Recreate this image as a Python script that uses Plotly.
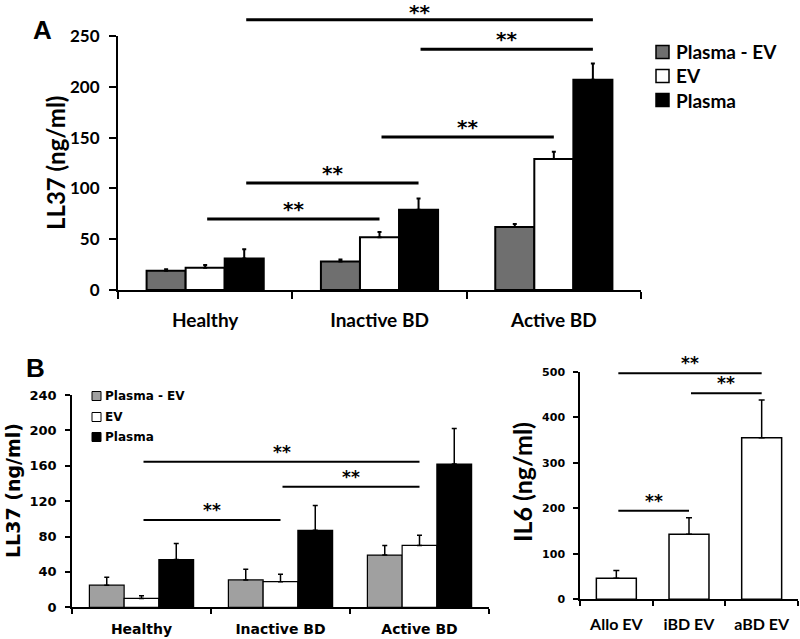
import plotly.graph_objects as go

# ---------------- data ----------------
groups_A = ["Healthy", "Inactive BD", "Active BD"]
series_names = ["Plasma - EV", "EV", "Plasma"]
A_plasma_ev = [19, 28, 62]
A_ev = [22, 52, 129]
A_plasma = [31, 79, 207]
A_plasma_ev_err = [1.5, 2, 3]
A_ev_err = [2.5, 5, 7]
A_plasma_err = [9, 11, 16]
A_yticks = [0, 50, 100, 150, 200, 250]

groups_B = ["Healthy", "Inactive BD", "Active BD"]
B_plasma_ev = [25, 31, 59]
B_ev = [10, 29, 70]
B_plasma = [54, 87, 162]
B_plasma_ev_err = [9, 12, 11]
B_ev_err = [3, 8.5, 11.5]
B_plasma_err = [18, 28, 40]
B_yticks = [0, 40, 80, 120, 160, 200, 240]

il6_groups = ["Allo EV", "iBD EV", "aBD EV"]
il6_values = [46, 143, 355]
il6_err = [17, 36, 83]
il6_yticks = [0, 100, 200, 300, 400, 500]

# significance brackets: (group1, series1, group2, series2, level)
A_sig = [(0, 2, 2, 2, 266), (1, 2, 2, 2, 237), (1, 1, 2, 1, 150.6),
         (0, 2, 1, 2, 105.3), (0, 1, 1, 1, 69.9)]
B_sig = [(0, 1, 2, 1, 164.5), (1, 1, 2, 1, 136.3), (0, 1, 1, 1, 98.6)]
IL6_sig = [(0, 2, 496.7), (1, 2, 452.7), (0, 1, 194.7)]
sig_label = "**"

# ---------------- geometry / style ----------------
W, H = 800, 639
def px(x): return x / W
def py(y): return 1 - y / H

PA = dict(l=118, r=641, b=290, t=36, ymax=250)
PB = dict(l=72, r=489, b=607.3, t=395, ymax=240)
PC = dict(l=580, r=798, b=599.3, t=371.7, ymax=500)

def cat_x(p, idx):
    return p["l"] + (idx + 0.5) * (p["r"] - p["l"]) / 3.0

def val_y(p, v):
    return p["b"] - v / p["ymax"] * (p["b"] - p["t"])

wA, wB, wC = 0.224, 0.25, 0.55
grayA, grayB = "#6f6f6f", "#a0a0a0"
colorsA = [grayA, "white", "black"]
colorsB = [grayB, "white", "black"]
FA = "Lato"
FB = "DejaVu Sans"
FS = "DejaVu Sans"

fig = go.Figure()

A_vals = [A_plasma_ev, A_ev, A_plasma]
A_errs = [A_plasma_ev_err, A_ev_err, A_plasma_err]
for j in range(3):
    fig.add_trace(go.Bar(
        x=groups_A, y=A_vals[j], name=series_names[j], width=wA,
        offset=(j - 1.5) * wA,
        marker=dict(color=colorsA[j], line=dict(color="black", width=2)),
        error_y=dict(type="data", array=A_errs[j], arrayminus=[0] * 3,
                     symmetric=False, color="black", thickness=2, width=2),
        xaxis="x", yaxis="y", showlegend=False))

B_vals = [B_plasma_ev, B_ev, B_plasma]
B_errs = [B_plasma_ev_err, B_ev_err, B_plasma_err]
for j in range(3):
    fig.add_trace(go.Bar(
        x=groups_B, y=B_vals[j], name=series_names[j], width=wB,
        offset=(j - 1.5) * wB,
        marker=dict(color=colorsB[j], line=dict(color="black", width=1.2)),
        error_y=dict(type="data", array=B_errs[j], arrayminus=[0] * 3,
                     symmetric=False, color="black", thickness=1.5, width=2.5),
        xaxis="x2", yaxis="y2", showlegend=False))

fig.add_trace(go.Bar(
    x=il6_groups, y=il6_values, width=wC, offset=-wC / 2,
    marker=dict(color="white", line=dict(color="black", width=1.5)),
    error_y=dict(type="data", array=il6_err, arrayminus=[0] * 3,
                 symmetric=False, color="black", thickness=1.5, width=3),
    xaxis="x3", yaxis="y3", showlegend=False))

shapes = []
annotations = []

def add_sig(p, g1, c1, g2, c2, level, fsize, lw, rise):
    x0 = cat_x(p, g1 + c1) + 2
    x1 = cat_x(p, g2 + c2)
    y = val_y(p, level)
    shapes.append(dict(type="line", xref="paper", yref="paper",
                       x0=px(x0), x1=px(x1), y0=py(y), y1=py(y),
                       line=dict(color="black", width=lw)))
    annotations.append(dict(text="<b>" + sig_label + "</b>", xref="paper", yref="paper",
                            x=px((x0 + x1) / 2), y=py(max(y - rise, 12)), xanchor="center",
                            yanchor="middle", showarrow=False,
                            font=dict(family=FS, size=fsize, color="black")))

for g1, s1, g2, s2, lv in A_sig:
    add_sig(PA, g1, (s1 - 1) * wA, g2, (s2 - 1) * wA, lv, 20, 3, 10)
for g1, s1, g2, s2, lv in B_sig:
    add_sig(PB, g1, (s1 - 1) * wB, g2, (s2 - 1) * wB, lv, 17, 2, 10)
for g1, g2, lv in IL6_sig:
    add_sig(PC, g1, 0, g2, 0, lv, 17, 2, 10)

def add_legend(x, ys, size, fsize, font, colors, lw, gap):
    for name, c, yc in zip(series_names, colors, ys):
        shapes.append(dict(type="rect", xref="paper", yref="paper",
                           x0=px(x), x1=px(x + size), y0=py(yc - size / 2), y1=py(yc + size / 2),
                           fillcolor=c, line=dict(color="black", width=lw)))
        annotations.append(dict(text="<b>" + name + "</b>", xref="paper", yref="paper",
                                x=px(x + size + gap), y=py(yc), xanchor="left", yanchor="middle",
                                showarrow=False, font=dict(family=font, size=fsize, color="black")))

add_legend(656, [52, 76, 100], 13, 19, FA, colorsA, 1.5, 5)
add_legend(92, [396, 417, 437], 9, 12, FB, colorsB, 1, 2)

annotations += [
    dict(text="<b>LL37 (ng/ml)</b>", xref="paper", yref="paper", x=px(55), y=py(163),
         textangle=-90, showarrow=False, xanchor="center", yanchor="middle",
         font=dict(family=FA, size=24, color="black")),
    dict(text="<b>LL37 (ng/ml)</b>", xref="paper", yref="paper", x=px(13), y=py(491),
         textangle=-90, showarrow=False, xanchor="center", yanchor="middle",
         font=dict(family=FB, size=19, color="black")),
    dict(text="<b>IL6 (ng/ml)</b>", xref="paper", yref="paper", x=px(522), y=py(482),
         textangle=-90, showarrow=False, xanchor="center", yanchor="middle",
         font=dict(family=FA, size=25, color="black")),
    dict(text="<b>A</b>", xref="paper", yref="paper", x=px(42), y=py(30),
         showarrow=False, xanchor="center", yanchor="middle",
         font=dict(family="Liberation Sans", size=26, color="black")),
    dict(text="<b>B</b>", xref="paper", yref="paper", x=px(35), y=py(368),
         showarrow=False, xanchor="center", yanchor="middle",
         font=dict(family="Liberation Sans", size=26, color="black")),
]

def xax(p, lw, tl, font, fsize, standoff):
    return dict(domain=[px(p["l"]), px(p["r"])], range=[-0.5, 2.5], type="category",
                showline=True, linecolor="black", linewidth=lw, ticks="outside",
                tickson="boundaries", ticklen=tl, tickwidth=lw, tickcolor="black",
                tickfont=dict(family=font, size=fsize, color="black", weight="bold"),
                ticklabelstandoff=standoff, showgrid=False, zeroline=False,
                fixedrange=True, automargin=False)

def yax(p, ticks, lw, tl, font, fsize, standoff):
    return dict(domain=[py(p["b"]), py(p["t"])], range=[0, p["ymax"]],
                tickvals=ticks, showline=True, linecolor="black", linewidth=lw,
                ticks="outside", ticklen=tl, tickwidth=lw, tickcolor="black",
                tickfont=dict(family=font, size=fsize, color="black", weight="bold"),
                ticklabelstandoff=standoff, showgrid=False, zeroline=False,
                fixedrange=True, automargin=False)

fig.update_layout(
    width=W, height=H, autosize=False,
    margin=dict(l=0, r=0, t=0, b=0, pad=0, autoexpand=False),
    paper_bgcolor="white", plot_bgcolor="white",
    barmode="group", showlegend=False,
    xaxis={**xax(PA, 2, 7, FA, 19, 12), "anchor": "y"},
    yaxis={**yax(PA, A_yticks, 2, 7, FA, 17, 6), "anchor": "x"},
    xaxis2={**xax(PB, 1.5, 5, FB, 14, 8), "anchor": "y2"},
    yaxis2={**yax(PB, B_yticks, 1.5, 5, FB, 13, 6), "anchor": "x2"},
    xaxis3={**xax(PC, 1.5, 5, FA, 16, 10), "anchor": "y3"},
    yaxis3={**yax(PC, il6_yticks, 1.5, 5, FB, 11, 6), "anchor": "x3"},
    shapes=shapes, annotations=annotations,
)

fig.write_html("out.html", config={"displayModeBar": False},
               post_script="document.body.style.margin='0';document.body.style.overflow='hidden';")
